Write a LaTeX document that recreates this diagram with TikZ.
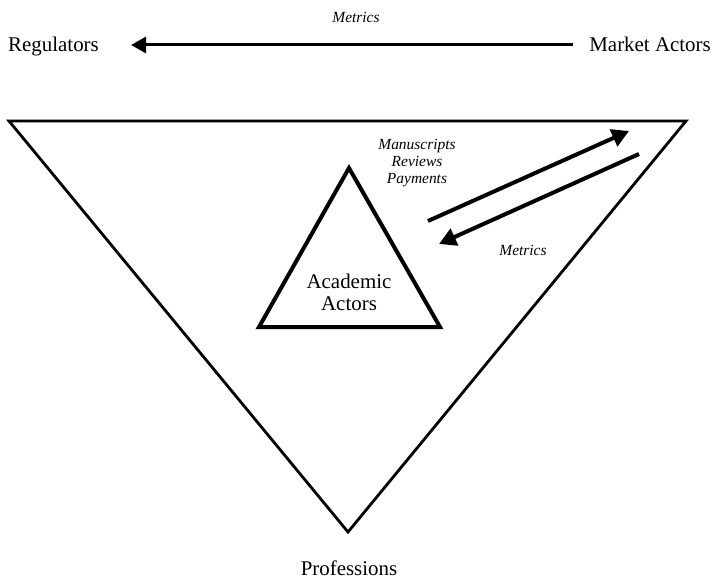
\documentclass[tikz,border=0pt]{standalone}
\usepackage{fontspec}
\setmainfont{Liberation Serif}
\usetikzlibrary{arrows.meta}
\begin{document}
\begin{tikzpicture}[x=1bp,y=-1bp,
  big/.style={font=\fontsize{21}{25}\selectfont, inner sep=0pt},
  small/.style={font=\fontsize{15.5}{19}\selectfont\itshape, inner sep=0pt, align=center},
  tri/.style={line width=2.8bp, line join=miter},
  flow/.style={line width=4bp, -{Triangle[length=17bp,width=18bp]}},
  topflow/.style={line width=3bp, -{Triangle[length=15bp,width=16bp]}}]
\useasboundingbox (0,0) rectangle (713,580);
% big inverted triangle
\coordinate (BL) at (9,121);
\coordinate (BR) at (686,121);
\coordinate (BB) at (348,532);
\draw[tri] (BL) -- (BR) -- (BB) -- cycle;
% small triangle
\coordinate (SA) at (349,168);
\coordinate (SL) at (259,327);
\coordinate (SR) at (440,327);
\draw[tri, line width=4bp] (SA) -- (SL) -- (SR) -- cycle;
% texts
\node[big, anchor=base west] (reg) at (8,52) {Regulators};
\node[big, anchor=base east] (mkt) at (711,52) {Market Actors};
\node[small] (m1) at (356,17) {Metrics};
\node[big, align=center] (acad) at (349,292) {Academic\\[-3pt]Actors};
\node[big, anchor=base] (prof) at (349,575) {Professions};
\node[small] (mrp) at (417,163) {Manuscripts\\[-2pt]Reviews\\[-2pt]Payments};
\node[small] (m2) at (523,250) {Metrics};
% arrows
\coordinate (t1) at ([xshift=-16bp]mkt.west |- 0,45);
\coordinate (t2) at (131,45);
\draw[topflow] (t1) -- (t2);
\coordinate (a1s) at (428,221);
\coordinate (a1e) at (629,131);
\draw[flow] (a1s) -- (a1e);
\coordinate (a2s) at (639,154);
\coordinate (a2e) at (439,244);
\draw[flow] (a2s) -- (a2e);
\end{tikzpicture}
\end{document}
